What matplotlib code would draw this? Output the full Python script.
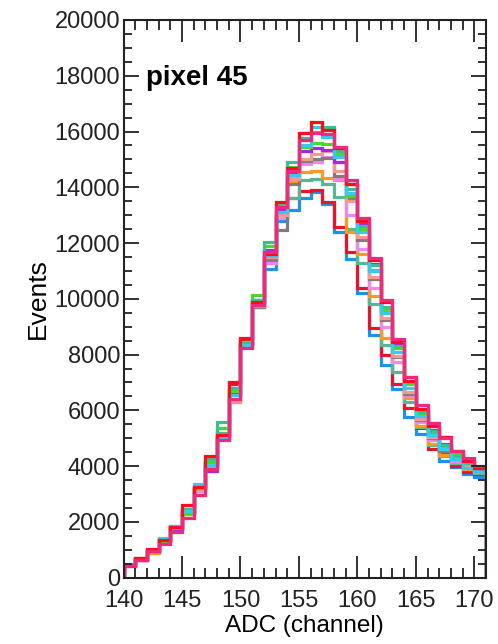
import matplotlib
matplotlib.use("Agg")
import matplotlib.pyplot as plt
import matplotlib.transforms as mtransforms
import numpy as np
from matplotlib.ticker import MultipleLocator

plt.rcParams['font.family'] = ['Liberation Sans', 'DejaVu Sans']

# ADC bin edges (1 channel wide), 140 .. 171
edges = np.arange(140, 172)

# events per bin, in thousands, one list per histogram (drawn in this order)
blue = [0.48, 0.68, 0.98, 1.40, 1.85, 2.35, 3.10, 4.05, 5.05, 6.60, 8.55, 9.85, 11.08, 12.80, 13.18, 13.60,
        13.83, 13.40, 12.40, 11.44, 10.20, 8.69, 7.61, 6.78, 5.76, 5.17, 4.80, 4.20, 3.96, 3.73, 3.60]
red2 = [0.46, 0.69, 1.00, 1.36, 1.83, 2.40, 3.20, 4.20, 5.15, 6.95, 8.50, 9.85, 11.40, 13.00, 13.60, 13.85,
        13.90, 13.48, 12.58, 11.68, 10.37, 8.94, 7.97, 6.95, 6.10, 5.35, 4.60, 4.45, 4.00, 3.80, 3.70]
seagreen2 = [0.45, 0.66, 0.93, 1.33, 1.80, 2.32, 3.10, 4.10, 5.20, 6.70, 8.40, 9.75, 11.45, 12.95, 13.60, 14.25,
             14.30, 14.10, 13.66, 12.50, 11.30, 9.80, 8.33, 7.37, 6.30, 5.40, 4.75, 4.35, 4.10, 3.88, 3.75]
orange = [0.44, 0.64, 0.90, 1.30, 1.75, 2.28, 2.95, 4.00, 5.00, 6.30, 8.35, 9.70, 11.30, 12.95, 14.20, 14.55,
          14.60, 14.35, 14.26, 12.40, 11.60, 10.10, 8.60, 7.73, 6.45, 5.45, 4.80, 4.40, 4.15, 3.90, 3.78]
violet = [0.43, 0.65, 0.94, 1.30, 1.77, 2.40, 3.12, 3.95, 4.98, 6.38, 8.28, 9.72, 11.30, 12.90, 14.40, 14.85,
          14.90, 15.10, 14.30, 13.00, 11.80, 10.40, 9.00, 7.75, 6.50, 5.60, 4.95, 4.55, 4.20, 3.95, 3.80]
gray = [0.43, 0.65, 0.96, 1.34, 1.79, 2.33, 3.18, 4.02, 5.02, 6.40, 8.35, 9.70, 11.40, 12.46, 14.10, 14.95,
        15.00, 15.05, 14.40, 13.60, 12.10, 10.70, 9.25, 7.90, 6.60, 5.65, 5.00, 4.55, 4.25, 3.98, 3.85]
salmon = [0.44, 0.66, 0.95, 1.32, 1.78, 2.35, 3.15, 4.00, 5.05, 6.35, 8.30, 9.80, 11.50, 13.00, 14.30, 15.00,
          15.20, 15.30, 14.60, 13.50, 12.20, 10.80, 9.30, 7.95, 6.65, 5.70, 5.05, 4.60, 4.30, 4.00, 3.85]
purple = [0.42, 0.64, 0.95, 1.31, 1.76, 2.38, 3.30, 3.84, 5.00, 6.60, 8.30, 9.95, 11.74, 13.20, 14.55, 15.30,
          15.40, 15.35, 14.90, 14.10, 12.70, 11.25, 9.55, 8.40, 7.19, 6.05, 5.30, 4.80, 4.40, 4.10, 3.90]
green = [0.44, 0.67, 0.96, 1.33, 1.78, 2.30, 3.20, 4.14, 5.35, 6.70, 8.45, 10.13, 11.90, 13.36, 14.73, 15.45,
         15.60, 15.55, 15.20, 13.70, 12.50, 11.05, 9.60, 8.25, 6.95, 5.90, 5.20, 4.70, 4.45, 4.15, 3.95]
seagreen = [0.46, 0.66, 0.97, 1.38, 1.82, 2.45, 3.20, 4.25, 5.58, 6.80, 8.40, 9.95, 12.04, 13.35, 14.91, 15.75,
            16.00, 16.17, 15.30, 13.95, 12.60, 11.20, 9.70, 8.30, 7.00, 5.95, 5.25, 4.75, 4.35, 4.10, 3.90]
cyan = [0.45, 0.68, 0.98, 1.42, 1.87, 2.40, 3.36, 4.05, 5.00, 6.55, 8.35, 9.75, 11.55, 13.10, 14.45, 15.50,
        16.15, 15.80, 15.10, 13.80, 12.40, 11.00, 9.50, 8.10, 6.80, 5.80, 5.10, 4.60, 4.25, 3.95, 3.80]
red = [0.47, 0.70, 1.02, 1.35, 1.80, 2.62, 3.25, 4.38, 5.10, 7.00, 8.60, 9.90, 11.60, 13.48, 14.70, 15.93,
       16.35, 16.05, 15.40, 14.10, 12.80, 11.40, 9.90, 8.45, 7.05, 6.05, 5.45, 5.04, 4.56, 4.20, 3.95]
pink = [0.45, 0.65, 0.95, 1.20, 1.62, 2.15, 2.98, 3.88, 4.92, 6.42, 8.25, 9.77, 11.68, 13.30, 14.60, 15.70,
        15.95, 15.90, 15.45, 14.25, 12.90, 11.45, 9.95, 8.55, 7.20, 6.20, 5.55, 5.00, 4.55, 4.28, 4.02]

hists = [
    (blue, "#1a92f0"),
    (red2, "#e8142c"),
    (seagreen2, "#55b890"),
    (orange, "#ff981e"),
    (violet, "#f088f0"),
    (gray, "#857a78"),
    (salmon, "#f49a8e"),
    (purple, "#a626e6"),
    (green, "#44dd22"),
    (seagreen, "#3cbf90"),
    (cyan, "#33ccee"),
    (red, "#ff0c1c"),
    (pink, "#f2287e"),
]

fig = plt.figure(figsize=(4.98, 6.44), dpi=100)
ax = fig.add_axes([0.248, 0.103, 0.728, 0.866])

for vals, col in hists:
    ax.stairs(np.array(vals) * 1000, edges, color=col, lw=2.3)

ax.set_xlim(140, 171)
ax.set_ylim(0, 20000)

ax.xaxis.set_major_locator(MultipleLocator(5))
ax.xaxis.set_minor_locator(MultipleLocator(1))
ax.yaxis.set_major_locator(MultipleLocator(2000))
ax.yaxis.set_minor_locator(MultipleLocator(500))
ax.tick_params(which='both', direction='in', top=True, right=True, width=1.3, colors='#222222',
               labelsize=17)
ax.tick_params(axis='x', which='major', length=16, pad=9)
ax.tick_params(axis='x', which='minor', length=7)
ax.tick_params(axis='y', which='major', length=11, pad=2.5)
ax.tick_params(axis='y', which='minor', length=6)
for s in ax.spines.values():
    s.set_linewidth(1.5)
    s.set_color('#222222')

# nudge the "0" label up a bit, as in the original, so it clears "140"
fig.canvas.draw()
lab0 = ax.yaxis.get_major_ticks()[0].label1
lab0.set_transform(lab0.get_transform() + mtransforms.ScaledTranslation(0, 4 / 72, fig.dpi_scale_trans))

ax.set_xlabel("ADC (channel)", fontsize=17.5, labelpad=2)
ax.set_ylabel("Events", fontsize=19, labelpad=3)
ax.text(0.061, 0.896, "pixel 45", transform=ax.transAxes, fontsize=20,
        fontweight='bold', va='center', ha='left')

fig.savefig("out.png", dpi=100)
